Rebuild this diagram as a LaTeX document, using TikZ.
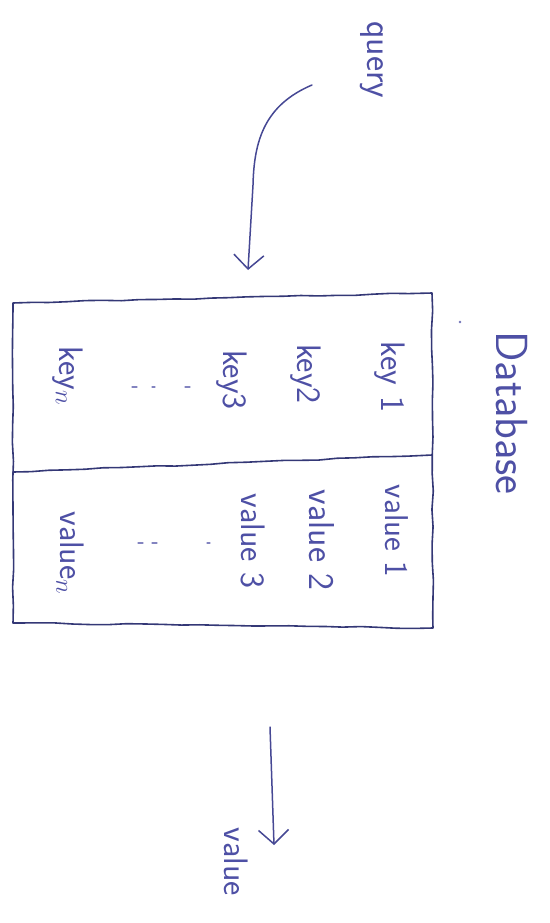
\documentclass[tikz,border=0pt]{standalone}
\usetikzlibrary{arrows.meta,decorations.pathmorphing}
\definecolor{ink}{RGB}{78,80,165}
\definecolor{pen}{RGB}{52,56,118}
\tikzset{
  hand/.style={draw=pen, line width=1.6pt, line cap=round, line join=round,
    decorate, decoration={random steps, segment length=18pt, amplitude=0.7pt}},
  label/.style={text=ink, font=\sffamily\fontsize{34}{40}\selectfont, rotate=-90, inner sep=0pt},
  flow/.style={draw=ink!90!black, line width=1.5pt, line cap=round,
    -{Straight Barb[length=14pt, width=30pt, line width=1.5pt]}},
  dotmark/.style={draw=ink!70, line width=1.3pt, line cap=round}
}
\begin{document}
\begin{tikzpicture}[x=1pt, y=-1pt]
\pgfmathsetseed{7}
\useasboundingbox (0,0) rectangle (549,923);

% table outline
\coordinate (tl) at (13,303);
\coordinate (tr) at (432,293);
\coordinate (br) at (433,628);
\coordinate (bl) at (13,623);
\coordinate (ml) at (13,472);
\coordinate (mr) at (432,455);
\draw[hand] (tl) -- (tr) -- (br) -- (bl) -- cycle;
\draw[hand] (ml) -- (mr);

% texts
\node[label, font=\sffamily\fontsize{36}{42}\selectfont] (query) at (372,60) {query};
\node[label, font=\sffamily\fontsize{45}{52}\selectfont] (db) at (512,413) {Database};
\fill[ink!80] (460,322) circle (1.3pt);

\node[label] (k1) at (390,377) {key 1};
\node[label] (k2) at (306,374) {key2};
\node[label] (k3) at (232,380) {key3};
\node[label] (kn) at (68,376) {key$_n$};

\node[label, font=\sffamily\fontsize{33}{38}\selectfont] (v1) at (397,531) {value 1};
\node[label, font=\sffamily\fontsize{36}{42}\selectfont] (v2) at (322,540) {value 2};
\node[label, font=\sffamily\fontsize{34}{40}\selectfont] (v3) at (253,541) {value 3};
\node[label] (vn) at (70,553) {value$_n$};

\node[label] (out) at (236,862) {value};

% ellipsis marks between rows
\draw[dotmark] (132,387) -- (137,387) (152,387) -- (155,387) (185,387) -- (190,387);
\draw[dotmark] (138,543) -- (143,543) (152,543) -- (157,543) (207,543) -- (210,543);

% arrows
\coordinate (qs) at (312,85);
\coordinate (qe) at (248,270);
\draw[flow] (qs) .. controls (265,105) and (254,140) .. (253,185) -- (qe);
\coordinate (os) at (270,727);
\coordinate (oe) at (274,845);
\draw[flow] (os) -- (oe);
\end{tikzpicture}
\end{document}
